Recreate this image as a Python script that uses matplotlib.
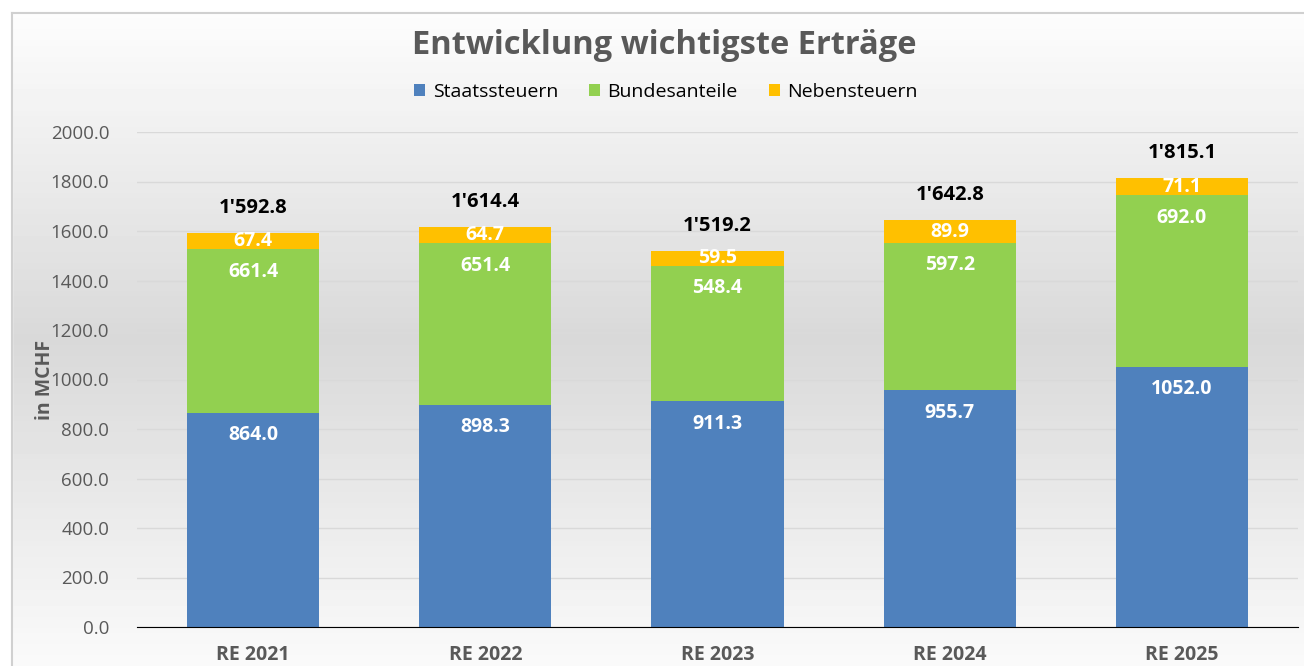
import numpy as np
import matplotlib.pyplot as plt
from matplotlib.patches import Rectangle

plt.rcParams['font.family'] = ['Open Sans', 'DejaVu Sans']

years = ["RE 2021", "RE 2022", "RE 2023", "RE 2024", "RE 2025"]
staatssteuern = [864.0, 898.3, 911.3, 955.7, 1052.0]
bundesanteile = [661.4, 651.4, 548.4, 597.2, 692.0]
nebensteuern = [67.4, 64.7, 59.5, 89.9, 71.1]
totals = ["1'592.8", "1'614.4", "1'519.2", "1'642.8", "1'815.1"]

series = [("Staatssteuern", staatssteuern, "#4f81bd"),
          ("Bundesanteile", bundesanteile, "#92d050"),
          ("Nebensteuern", nebensteuern, "#ffc000")]

fig = plt.figure(figsize=(13.04, 6.66), dpi=100)

# background gradient (white top/bottom, grey middle)
bg = fig.add_axes([0, 0, 1, 1], zorder=-10)
g = np.concatenate([np.linspace(0.99, 0.85, 60), np.linspace(0.85, 0.98, 60)])
bg.imshow(g.reshape(-1, 1), cmap="gray", vmin=0, vmax=1, aspect="auto",
          extent=[12 / 1304, 1, 0, 1 - 13 / 666])
bg.add_patch(Rectangle((0, 1 - 13 / 666), 1, 13 / 666, color="white"))
bg.add_patch(Rectangle((0, 0), 12 / 1304, 1, color="white"))
bg.plot([12 / 1304, 1], [1 - 13 / 666] * 2, color="#d0d0d0", lw=1.5)
bg.plot([12 / 1304] * 2, [0, 1 - 13 / 666], color="#d0d0d0", lw=1.5)
bg.set_xlim(0, 1)
bg.set_ylim(0, 1)
bg.axis("off")

ax = fig.add_axes([137 / 1304, 1 - 627 / 666, (1298 - 137) / 1304, (627 - 132) / 666])
ax.patch.set_alpha(0)

x = np.arange(len(years))
bottom = np.zeros(len(years))
for name, vals, col in series:
    ax.bar(x, vals, 0.57, bottom=bottom, color=col, label=name, zorder=3)
    for xi, b, v in zip(x, bottom, vals):
        if name == "Nebensteuern":
            ax.text(xi, b + v / 2, f"{v:.1f}", ha="center", va="center",
                    color="white", fontsize=14, fontweight="bold", zorder=4)
        else:
            ax.annotate(f"{v:.1f}", (xi, b + v), xytext=(0, -16),
                        textcoords="offset points", ha="center", va="center",
                        color="white", fontsize=14, fontweight="bold", zorder=4)
    bottom = bottom + np.array(vals)

for xi, top, t in zip(x, bottom, totals):
    ax.annotate(t, (xi, top), xytext=(0, 18), textcoords="offset points",
                ha="center", va="center", color="black", fontsize=14.5,
                fontweight="bold")

ax.set_xlim(-0.5, len(years) - 0.5)
ax.set_ylim(0, 2000)
ax.set_yticks(np.arange(0, 2001, 200))
ax.set_yticklabels([f"{v:.1f}" for v in np.arange(0, 2001, 200)])
ax.set_xticks(x)
ax.set_xticklabels(years, fontweight="bold")
ax.tick_params(axis="y", length=0, labelsize=13.5, labelcolor="#595959", pad=20)
ax.tick_params(axis="x", length=0, labelsize=14, labelcolor="#595959", pad=13)
ax.grid(axis="y", color="#d9d9d9", lw=1, zorder=0)
for s in ["top", "right", "left"]:
    ax.spines[s].set_visible(False)
ax.spines["bottom"].set_color("black")
ax.spines["bottom"].set_zorder(5)

fig.text(45 / 1304, 1 - 380 / 666, "in MCHF", rotation=90, ha="center", va="center",
         fontsize=14, fontweight="bold", color="#595959")

fig.text(664 / 1304, 1 - 46 / 666, "Entwicklung wichtigste Erträge", ha="center",
         va="center", fontsize=23.5, fontweight="bold", color="#595959")

fig.legend(loc="center", bbox_to_anchor=(666 / 1304, 1 - 92 / 666), ncol=3,
           frameon=False, fontsize=14, handlelength=0.55, handleheight=0.6,
           columnspacing=1.6, handletextpad=0.4)

fig.savefig("out.png", dpi=100)
